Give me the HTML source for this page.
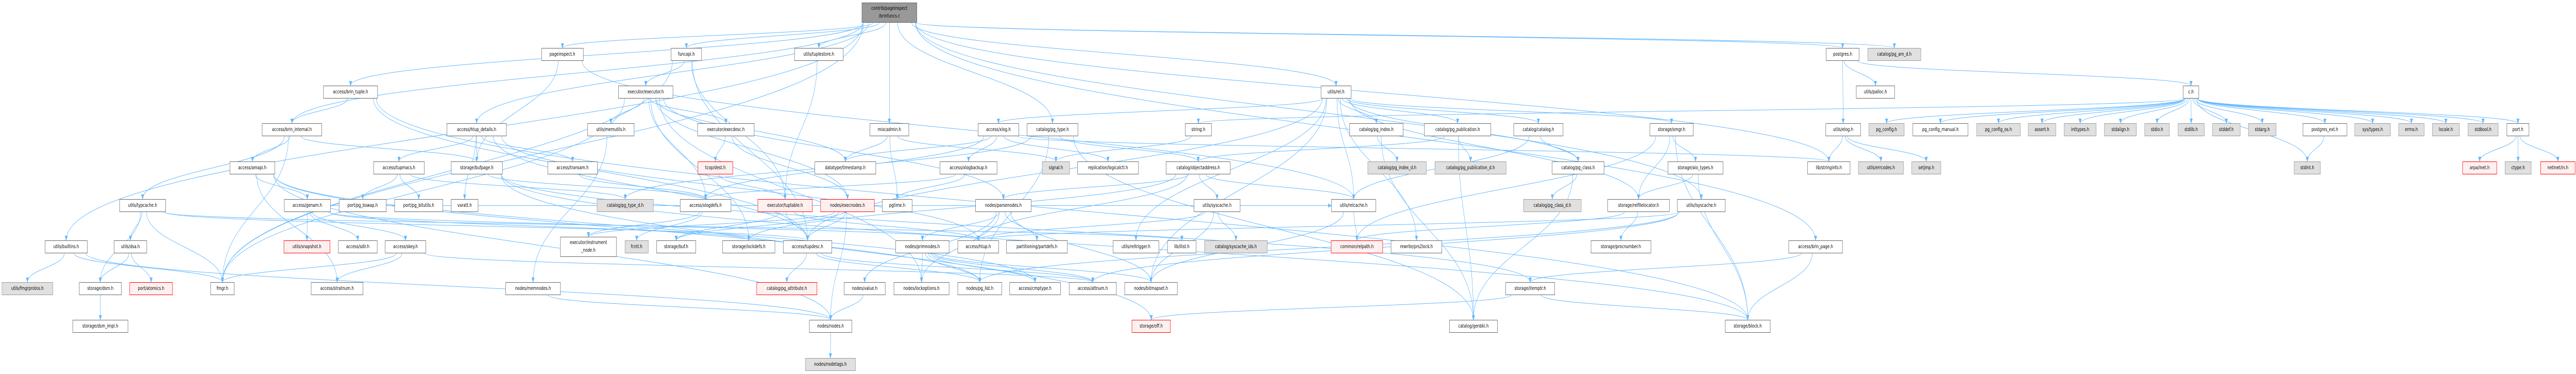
<!DOCTYPE html>
<html><head><meta charset="utf-8"><meta name="viewport" content="width=7099"><style>
html,body{margin:0;padding:0;background:#fff;overflow:hidden}
#c{position:absolute;left:0;top:0;width:7099px;height:725px;overflow:hidden;background:#fff;transform-origin:0 0}
svg{position:absolute;left:0;top:0}
.n{position:absolute;height:23px;line-height:23px;border:1px solid #666;background:#fff;font-family:"DejaVu Sans","Liberation Sans",sans-serif;font-size:10px;color:#000;text-align:center;white-space:nowrap;box-sizing:content-box}
.g{background:#e0e0e0;border-color:#999}
.r{background:#fff0f0;border-color:#f00}
.t{background:#999;border-color:#666;line-height:15px;height:34px;padding-top:3px}
.i{line-height:15px;height:34px;padding-top:3px}
</style></head><body><div id="c">
<svg id="s" width="7099" height="725" xmlns="http://www.w3.org/2000/svg"><defs><marker id="a" markerWidth="10" markerHeight="8" refX="9" refY="4" orient="auto" markerUnits="userSpaceOnUse"><path d="M0,0 L10,4 L0,8 z" fill="#63b8ff"/></marker></defs><g id="e" fill="none" stroke="#63b8ff" stroke-width="1"></g></svg>
<div class="n t" style="left:2375px;top:5px;width:150px">contrib/pageinspect<br>/brinfuncs.c</div>
<div class="n" style="left:1492px;top:93px;width:114px">pageinspect.h</div>
<div class="n" style="left:1849px;top:93px;width:83px">funcapi.h</div>
<div class="n" style="left:2189px;top:93px;width:133px">utils/tuplestore.h</div>
<div class="n" style="left:5032px;top:93px;width:90px">postgres.h</div>
<div class="n g" style="left:5147px;top:93px;width:145px">catalog/pg_am_d.h</div>
<div class="n" style="left:891px;top:166px;width:148px">access/brin_tuple.h</div>
<div class="n" style="left:1704px;top:166px;width:149px">executor/executor.h</div>
<div class="n" style="left:3640px;top:166px;width:82px">utils/rel.h</div>
<div class="n" style="left:5115px;top:166px;width:105px">utils/palloc.h</div>
<div class="n" style="left:6016px;top:166px;width:42px">c.h</div>
<div class="n" style="left:722px;top:239px;width:163px">access/brin_internal.h</div>
<div class="n" style="left:1231px;top:239px;width:163px">access/htup_details.h</div>
<div class="n" style="left:1619px;top:239px;width:127px">utils/memutils.h</div>
<div class="n" style="left:1922px;top:239px;width:155px">executor/execdesc.h</div>
<div class="n" style="left:2397px;top:239px;width:106px">miscadmin.h</div>
<div class="n" style="left:2695px;top:239px;width:111px">access/xlog.h</div>
<div class="n" style="left:2830px;top:239px;width:139px">catalog/pg_type.h</div>
<div class="n" style="left:3266px;top:239px;width:71px">string.h</div>
<div class="n" style="left:3719px;top:239px;width:146px">catalog/pg_index.h</div>
<div class="n" style="left:3925px;top:239px;width:182px">catalog/pg_publication.h</div>
<div class="n" style="left:4171px;top:239px;width:135px">catalog/catalog.h</div>
<div class="n" style="left:4546px;top:239px;width:119px">storage/smgr.h</div>
<div class="n" style="left:5031px;top:239px;width:95px">utils/elog.h</div>
<div class="n g" style="left:5150px;top:239px;width:96px">pg_config.h</div>
<div class="n" style="left:5271px;top:239px;width:151px">pg_config_manual.h</div>
<div class="n g" style="left:5447px;top:239px;width:119px">pg_config_os.h</div>
<div class="n g" style="left:5589px;top:239px;width:75px">assert.h</div>
<div class="n g" style="left:5688px;top:239px;width:87px">inttypes.h</div>
<div class="n g" style="left:5799px;top:239px;width:87px">stdalign.h</div>
<div class="n g" style="left:5910px;top:239px;width:67px">stdio.h</div>
<div class="n g" style="left:6002px;top:239px;width:71px">stdlib.h</div>
<div class="n g" style="left:6097px;top:239px;width:75px">stddef.h</div>
<div class="n g" style="left:6196px;top:239px;width:75px">stdarg.h</div>
<div class="n" style="left:6346px;top:239px;width:120px">postgres_ext.h</div>
<div class="n g" style="left:6489px;top:239px;width:97px">sys/types.h</div>
<div class="n g" style="left:6610px;top:239px;width:69px">errno.h</div>
<div class="n g" style="left:6703px;top:239px;width:73px">locale.h</div>
<div class="n g" style="left:6801px;top:239px;width:82px">stdbool.h</div>
<div class="n" style="left:6908px;top:239px;width:60px">port.h</div>
<div class="n" style="left:633px;top:313px;width:123px">access/amapi.h</div>
<div class="n" style="left:1029px;top:313px;width:139px">access/tupmacs.h</div>
<div class="n" style="left:1243px;top:313px;width:140px">storage/bufpage.h</div>
<div class="n" style="left:1509px;top:313px;width:136px">access/transam.h</div>
<div class="n r" style="left:1923px;top:313px;width:95px">tcop/dest.h</div>
<div class="n" style="left:2245px;top:313px;width:167px">datatype/timestamp.h</div>
<div class="n" style="left:2590px;top:313px;width:156px">access/xlogbackup.h</div>
<div class="n g" style="left:2872px;top:313px;width:74px">signal.h</div>
<div class="n" style="left:2969px;top:313px;width:167px">replication/logicalctl.h</div>
<div class="n" style="left:3213px;top:313px;width:176px">catalog/objectaddress.h</div>
<div class="n g" style="left:3769px;top:313px;width:160px">catalog/pg_index_d.h</div>
<div class="n g" style="left:3954px;top:313px;width:195px">catalog/pg_publication_d.h</div>
<div class="n" style="left:4277px;top:313px;width:142px">catalog/pg_class.h</div>
<div class="n" style="left:4596px;top:313px;width:151px">storage/aio_types.h</div>
<div class="n" style="left:4981px;top:313px;width:116px">lib/stringinfo.h</div>
<div class="n g" style="left:5121px;top:313px;width:123px">utils/errcodes.h</div>
<div class="n g" style="left:5268px;top:313px;width:79px">setjmp.h</div>
<div class="n g" style="left:6322px;top:313px;width:71px">stdint.h</div>
<div class="n r" style="left:6786px;top:313px;width:93px">arpa/inet.h</div>
<div class="n g" style="left:6903px;top:313px;width:71px">ctype.h</div>
<div class="n r" style="left:7001px;top:313px;width:94px">netinet/in.h</div>
<div class="n" style="left:329px;top:386px;width:126px">utils/typcache.h</div>
<div class="n" style="left:783px;top:386px;width:126px">access/genam.h</div>
<div class="n" style="left:934px;top:386px;width:129px">port/pg_bswap.h</div>
<div class="n" style="left:1087px;top:386px;width:132px">port/pg_bitutils.h</div>
<div class="n" style="left:1243px;top:386px;width:73px">varatt.h</div>
<div class="n g" style="left:1645px;top:386px;width:154px">catalog/pg_type_d.h</div>
<div class="n" style="left:1874px;top:386px;width:139px">access/xlogdefs.h</div>
<div class="n r" style="left:2088px;top:386px;width:149px">executor/tuptable.h</div>
<div class="n r" style="left:2261px;top:386px;width:147px">nodes/execnodes.h</div>
<div class="n" style="left:2431px;top:386px;width:81px">pgtime.h</div>
<div class="n" style="left:2688px;top:386px;width:152px">nodes/parsenodes.h</div>
<div class="n" style="left:3290px;top:386px;width:126px">utils/syscache.h</div>
<div class="n" style="left:3669px;top:386px;width:121px">utils/relcache.h</div>
<div class="n g" style="left:4198px;top:386px;width:158px">catalog/pg_class_d.h</div>
<div class="n" style="left:4430px;top:386px;width:169px">storage/relfilelocator.h</div>
<div class="n" style="left:4622px;top:386px;width:131px">utils/lsyscache.h</div>
<div class="n" style="left:124px;top:466px;width:115px">utils/builtins.h</div>
<div class="n" style="left:314px;top:466px;width:89px">utils/dsa.h</div>
<div class="n r" style="left:782px;top:466px;width:126px">utils/snapshot.h</div>
<div class="n" style="left:932px;top:466px;width:106px">access/sdir.h</div>
<div class="n" style="left:1061px;top:466px;width:111px">access/skey.h</div>
<div class="n i" style="left:1544px;top:459px;width:153px">executor/instrument<br>_node.h</div>
<div class="n g" style="left:1722px;top:466px;width:63px">fcntl.h</div>
<div class="n" style="left:1809px;top:466px;width:107px">storage/buf.h</div>
<div class="n" style="left:1991px;top:466px;width:143px">storage/lockdefs.h</div>
<div class="n" style="left:2158px;top:466px;width:133px">access/tupdesc.h</div>
<div class="n" style="left:2468px;top:466px;width:146px">nodes/primnodes.h</div>
<div class="n" style="left:2639px;top:466px;width:112px">access/htup.h</div>
<div class="n" style="left:2773px;top:466px;width:167px">partitioning/partdefs.h</div>
<div class="n" style="left:3067px;top:466px;width:125px">utils/reltrigger.h</div>
<div class="n" style="left:3217px;top:466px;width:78px">lib/ilist.h</div>
<div class="n g" style="left:3319px;top:466px;width:172px">catalog/syscache_ids.h</div>
<div class="n r" style="left:3668px;top:466px;width:141px">common/relpath.h</div>
<div class="n" style="left:3833px;top:466px;width:139px">rewrite/prs2lock.h</div>
<div class="n" style="left:4384px;top:466px;width:164px">storage/procnumber.h</div>
<div class="n" style="left:4929px;top:466px;width:147px">access/brin_page.h</div>
<div class="n g" style="left:5px;top:547px;width:139px">utils/fmgrprotos.h</div>
<div class="n" style="left:218px;top:547px;width:115px">storage/dsm.h</div>
<div class="n r" style="left:357px;top:547px;width:117px">port/atomics.h</div>
<div class="n" style="left:580px;top:547px;width:64px">fmgr.h</div>
<div class="n" style="left:857px;top:547px;width:142px">access/stratnum.h</div>
<div class="n" style="left:1393px;top:547px;width:150px">nodes/memnodes.h</div>
<div class="n r" style="left:2085px;top:547px;width:165px">catalog/pg_attribute.h</div>
<div class="n" style="left:2326px;top:547px;width:112px">nodes/value.h</div>
<div class="n" style="left:2463px;top:547px;width:151px">nodes/lockoptions.h</div>
<div class="n" style="left:2639px;top:547px;width:120px">nodes/pg_list.h</div>
<div class="n" style="left:2782px;top:547px;width:139px">access/cmptype.h</div>
<div class="n" style="left:2946px;top:547px;width:129px">access/attnum.h</div>
<div class="n" style="left:3099px;top:547px;width:144px">nodes/bitmapset.h</div>
<div class="n" style="left:4149px;top:547px;width:134px">storage/itemptr.h</div>
<div class="n" style="left:200px;top:620px;width:151px">storage/dsm_impl.h</div>
<div class="n" style="left:2230px;top:620px;width:116px">nodes/nodes.h</div>
<div class="n r" style="left:3119px;top:620px;width:105px">storage/off.h</div>
<div class="n" style="left:3994px;top:620px;width:131px">catalog/genbki.h</div>
<div class="n" style="left:4754px;top:620px;width:123px">storage/block.h</div>
<div class="n g" style="left:2219px;top:694px;width:137px">nodes/nodetags.h</div>
</div>
<script>
var E=[
["contrib/pageinspect/brinfuncs.c",["pageinspect.h","funcapi.h","utils/tuplestore.h","postgres.h","catalog/pg_am_d.h","access/brin_tuple.h","access/brin_internal.h","access/htup_details.h","miscadmin.h","catalog/pg_type.h","utils/builtins.h","utils/rel.h","lib/stringinfo.h","access/brin_page.h","utils/lsyscache.h","fmgr.h"]],
["pageinspect.h",["storage/bufpage.h","utils/relcache.h"]],
["funcapi.h",["executor/executor.h","executor/tuptable.h","access/tupdesc.h","fmgr.h"]],
["utils/tuplestore.h",["executor/tuptable.h"]],
["executor/executor.h",["utils/memutils.h","executor/execdesc.h","access/xlogdefs.h","datatype/timestamp.h","nodes/lockoptions.h","nodes/parsenodes.h","nodes/execnodes.h","storage/lockdefs.h","fmgr.h"]],
["executor/execdesc.h",["tcop/dest.h","nodes/execnodes.h"]],
["tcop/dest.h",["executor/tuptable.h"]],
["utils/memutils.h",["nodes/memnodes.h"]],
["access/brin_tuple.h",["access/brin_internal.h","access/tupdesc.h","storage/block.h"]],
["access/brin_internal.h",["access/amapi.h","utils/typcache.h","storage/bufpage.h","fmgr.h"]],
["access/amapi.h",["access/genam.h","access/cmptype.h","nodes/nodes.h","access/stratnum.h","nodes/pg_list.h"]],
["access/genam.h",["utils/snapshot.h","access/sdir.h","access/skey.h","utils/relcache.h","storage/lockdefs.h","access/htup.h"]],
["access/skey.h",["fmgr.h","access/stratnum.h","access/attnum.h"]],
["utils/typcache.h",["utils/dsa.h","storage/dsm.h","fmgr.h","access/tupdesc.h","lib/ilist.h"]],
["utils/dsa.h",["storage/dsm.h","port/atomics.h"]],
["storage/dsm.h",["storage/dsm_impl.h"]],
["utils/builtins.h",["utils/fmgrprotos.h","fmgr.h","nodes/nodes.h"]],
["access/htup_details.h",["storage/bufpage.h","varatt.h","access/tupmacs.h","access/transam.h","access/htup.h","access/tupdesc.h"]],
["access/tupmacs.h",["port/pg_bswap.h","port/pg_bitutils.h","catalog/pg_type_d.h"]],
["storage/bufpage.h",["access/xlogdefs.h","storage/block.h","storage/off.h","storage/itemptr.h"]],
["access/transam.h",["access/xlogdefs.h"]],
["access/xlogdefs.h",["fcntl.h","executor/instrument_node.h"]],
["executor/tuptable.h",["access/tupdesc.h","storage/buf.h","access/htup.h"]],
["nodes/execnodes.h",["storage/buf.h","executor/instrument_node.h","nodes/nodes.h","access/tupdesc.h"]],
["access/tupdesc.h",["catalog/pg_attribute.h","nodes/pg_list.h","access/attnum.h"]],
["nodes/value.h",["nodes/nodes.h"]],
["nodes/memnodes.h",["nodes/nodes.h"]],
["nodes/nodes.h",["nodes/nodetags.h"]],
["miscadmin.h",["pgtime.h","signal.h","datatype/timestamp.h"]],
["access/xlog.h",["access/xlogbackup.h","replication/logicalctl.h","access/xlogdefs.h","datatype/timestamp.h","lib/stringinfo.h"]],
["access/xlogbackup.h",["pgtime.h","access/xlogdefs.h"]],
["catalog/pg_type.h",["catalog/objectaddress.h","catalog/genbki.h","catalog/pg_type_d.h","nodes/pg_list.h"]],
["string.h",["signal.h"]],
["catalog/objectaddress.h",["utils/syscache.h","nodes/parsenodes.h","access/htup.h","storage/lockdefs.h","utils/relcache.h"]],
["utils/syscache.h",["catalog/syscache_ids.h","access/htup.h","nodes/bitmapset.h"]],
["nodes/parsenodes.h",["nodes/primnodes.h","partitioning/partdefs.h","nodes/bitmapset.h","nodes/lockoptions.h","nodes/value.h"]],
["nodes/primnodes.h",["nodes/lockoptions.h","nodes/pg_list.h","access/cmptype.h","access/attnum.h","nodes/bitmapset.h"]],
["utils/rel.h",["catalog/pg_index.h","catalog/pg_publication.h","catalog/catalog.h","storage/smgr.h","utils/relcache.h","rewrite/prs2lock.h","catalog/pg_class.h","storage/relfilelocator.h","utils/reltrigger.h","access/tupdesc.h","nodes/bitmapset.h","access/xlog.h"]],
["catalog/pg_index.h",["catalog/pg_index_d.h","catalog/genbki.h"]],
["catalog/pg_publication.h",["catalog/pg_publication_d.h","catalog/genbki.h","catalog/objectaddress.h"]],
["catalog/catalog.h",["catalog/pg_class.h","utils/relcache.h"]],
["catalog/pg_class.h",["catalog/pg_class_d.h","catalog/genbki.h"]],
["storage/smgr.h",["storage/aio_types.h","storage/relfilelocator.h","storage/block.h","common/relpath.h"]],
["storage/aio_types.h",["storage/relfilelocator.h","storage/block.h"]],
["storage/relfilelocator.h",["storage/procnumber.h","common/relpath.h"]],
["utils/relcache.h",["common/relpath.h","nodes/bitmapset.h"]],
["utils/lsyscache.h",["access/htup.h","nodes/pg_list.h","access/attnum.h"]],
["storage/itemptr.h",["storage/block.h","storage/off.h"]],
["access/brin_page.h",["storage/block.h","storage/itemptr.h"]],
["postgres.h",["utils/palloc.h","utils/elog.h","c.h"]],
["utils/elog.h",["lib/stringinfo.h","utils/errcodes.h","setjmp.h"]],
["c.h",["pg_config.h","pg_config_manual.h","pg_config_os.h","assert.h","inttypes.h","stdalign.h","stdio.h","stdlib.h","stddef.h","stdarg.h","postgres_ext.h","sys/types.h","errno.h","locale.h","stdbool.h","port.h","stdint.h","string.h"]],
["postgres_ext.h",["stdint.h"]],
["port.h",["arpa/inet.h","ctype.h","netinet/in.h"]]
];
var M={};
document.querySelectorAll('.n').forEach(function(d){var l=parseFloat(d.style.left),t=parseFloat(d.style.top),w=parseFloat(d.style.width)+2,h=d.offsetHeight;M[d.textContent.trim()]={x:l,y:t,w:w,h:h};});
var g=document.getElementById('e'),ns='http://www.w3.org/2000/svg';
E.forEach(function(p){var s=M[p[0]];if(!s)return;p[1].forEach(function(tn){var t=M[tn];if(!t)return;
var sx=s.x+s.w/2,sy=s.y+s.h,tx=t.x+t.w/2,ty=t.y,d;
if(t.y<=s.y){sy=s.y+s.h/2;ty=t.y+t.h/2;if(tx>sx){sx=s.x+s.w;tx=t.x;}else{sx=s.x;tx=t.x+t.w;}d='M'+sx+','+sy+' L'+tx+','+ty;}
else{var off=Math.max(-s.w/2+4,Math.min(s.w/2-4,(tx-sx)*0.05));sx+=off;var dy=ty-sy;d='M'+sx+','+sy+' C'+sx+','+(sy+dy*0.45)+' '+tx+','+(ty-dy*0.45)+' '+tx+','+ty;}
var e=document.createElementNS(ns,'path');e.setAttribute('d',d);e.setAttribute('marker-end','url(#a)');g.appendChild(e);});});
(function(){var c=document.getElementById('c');var sx=window.innerWidth/7099,sy=window.innerHeight/725;
if(sx>0&&sy>0&&(Math.abs(sx-1)>0.01||Math.abs(sy-1)>0.01)){c.style.transform='scale('+sx+','+sy+')';}})();
</script>
</body></html>
